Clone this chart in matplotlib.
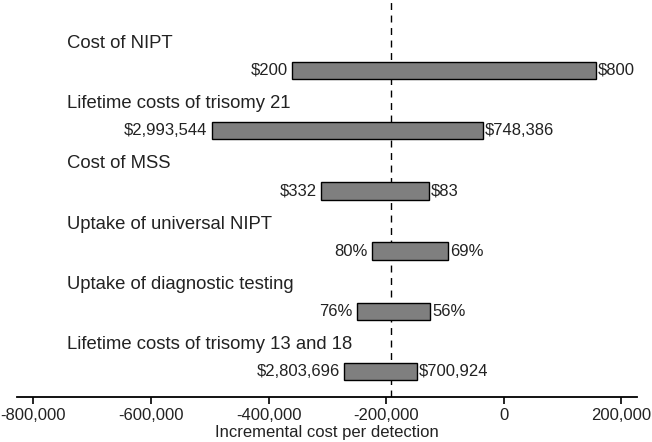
import matplotlib
matplotlib.use("Agg")
import matplotlib.pyplot as plt
from matplotlib.ticker import FuncFormatter

categories = ["Cost of NIPT", "Lifetime costs of trisomy 21", "Cost of MSS",
              "Uptake of universal NIPT", "Uptake of diagnostic testing",
              "Lifetime costs of trisomy 13 and 18"]
low_values = [-360500, -496700, -310000, -224200, -249800, -271700]
high_values = [157200, -35800, -127000, -94700, -125300, -147200]
left_labels = ["$200", "$2,993,544", "$332", "80%", "76%", "$2,803,696"]
right_labels = ["$800", "$748,386", "$83", "69%", "56%", "$700,924"]
base_value = -191000
xticks = [-800000, -600000, -400000, -200000, 0, 200000]

plt.rcParams['font.family'] = ['Liberation Sans', 'DejaVu Sans']

fig = plt.figure(figsize=(6.52, 4.42), dpi=100)
ax = fig.add_axes([17/652, 1-397/442, 620/652, 397/442])

for i, (lo, hi) in enumerate(zip(low_values, high_values)):
    ax.barh(i, hi - lo, left=lo, height=0.29, color='#7f7f7f',
            edgecolor='black', linewidth=1.0, zorder=3)
    ax.annotate(left_labels[i], xy=(lo, i), xytext=(-3, 0), textcoords='offset points',
                ha='right', va='center', fontsize=12, color='#222222')
    ax.annotate(right_labels[i], xy=(hi, i), xytext=(1.5, 0), textcoords='offset points',
                ha='left', va='center', fontsize=12, color='#222222')
    ax.text(-743000, i - 0.375, categories[i], ha='left', va='baseline',
            fontsize=13.3, color='#222222')

ax.axvline(base_value, color='black', linestyle=(0, (5, 4)), linewidth=1.0, zorder=2)

ax.set_xlim(-828000, 227000)
ax.set_ylim(5.424, -1.171)
ax.set_xticks(xticks)
ax.xaxis.set_major_formatter(FuncFormatter(lambda v, p: f"{int(v):,}"))
ax.set_yticks([])
for s in ['top', 'left', 'right']:
    ax.spines[s].set_visible(False)
ax.spines['bottom'].set_linewidth(1.3)
ax.tick_params(axis='x', length=5, width=1.2, labelsize=12, pad=3, labelcolor='#222222')
ax.set_xlabel("Incremental cost per detection", fontsize=12, labelpad=1, color='#222222')

fig.savefig("out.png", dpi=100)
